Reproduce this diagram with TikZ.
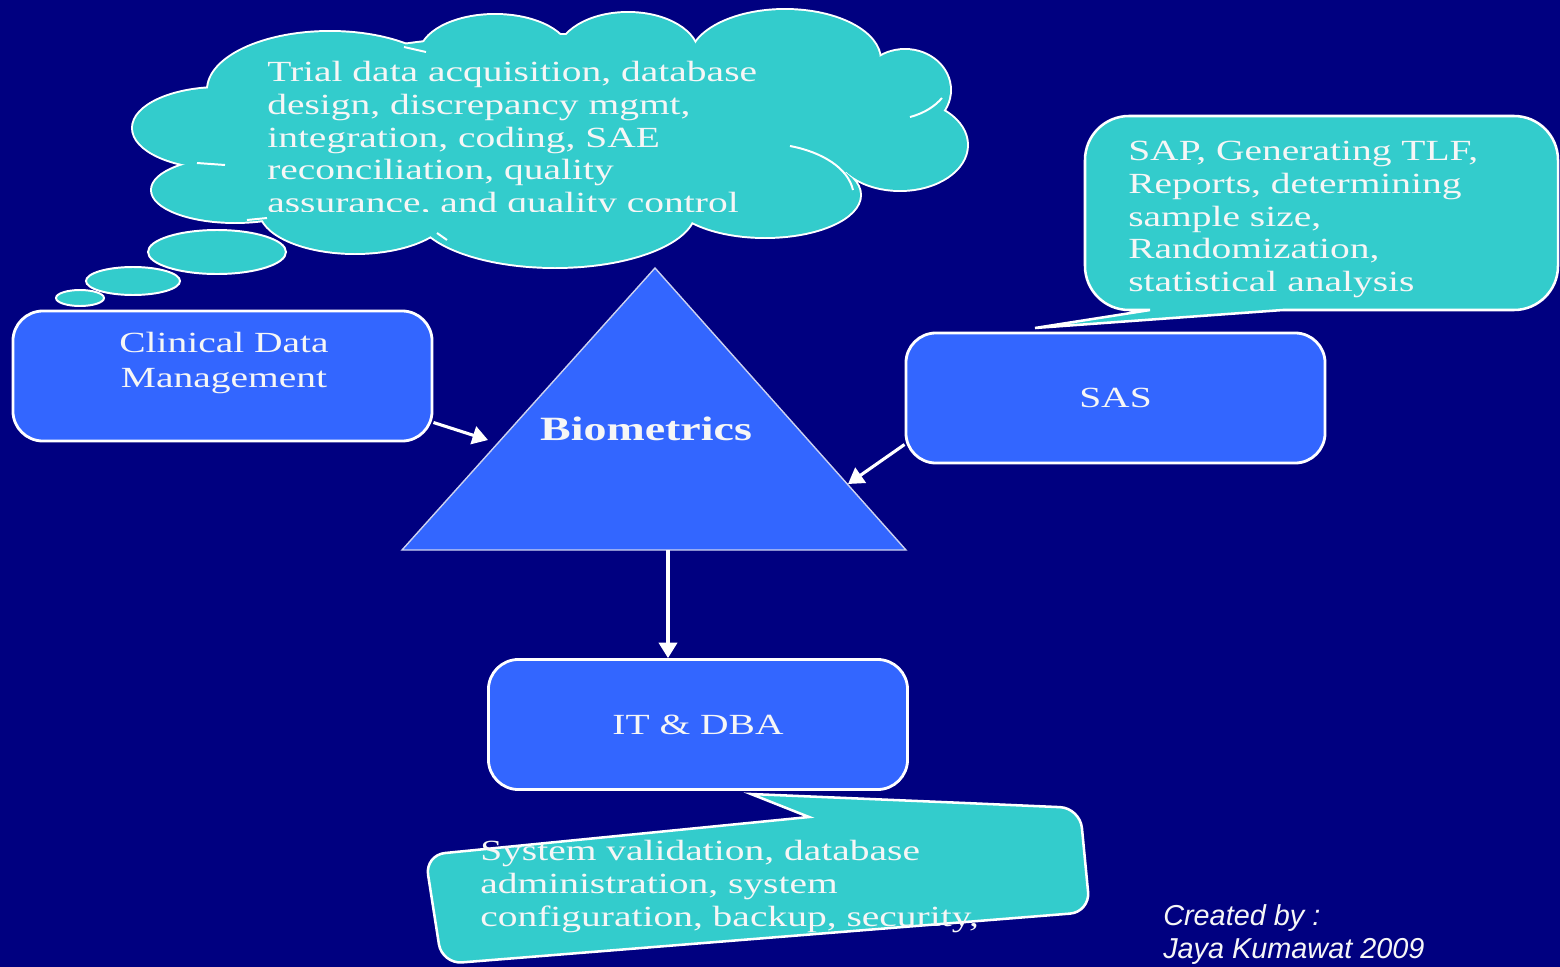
\documentclass[tikz,border=0pt]{standalone}
\usepackage{fontspec}
\newfontfamily\slidefont{Liberation Serif}[FakeStretch=1.35]
\newfontfamily\creditfont{Liberation Sans}
\usepackage{xcolor}
\definecolor{Slide-navy}{RGB}{0, 0, 128}
\definecolor{Slide-blue}{RGB}{51, 102, 255}
\definecolor{Slide-teal}{RGB}{51, 204, 204}
\definecolor{Slide-text}{RGB}{246, 246, 246}
\definecolor{Slide-edge}{RGB}{205, 210, 240}
\usetikzlibrary{arrows.meta,positioning,calc}
\def \cloudpuffs {330/90/122/58, 495/55/75/40, 628/55/70/42, 785/60/95/50, 905/90/45/40,
    900/145/67/45, 765/195/95/42, 555/210/140/57, 355/210/95/43, 235/190/83/32,
    220/128/87/40, 550/130/330/95, 860/110/55/45}

\begin{document}
\begin{tikzpicture} [
    x=0.025cm, y=-0.025cm, >={Triangle[length=11pt,width=13pt]},
    box/.style = {rectangle,rounded corners=0.75cm,draw=white,line width=2pt,fill=Slide-blue,
        minimum width=10.475cm,minimum height=3.25cm,text=Slide-text,
        font=\slidefont\fontsize{20.8}{24.8}\selectfont},
    plain/.style = {inner sep=0pt,text=Slide-text,align=left,
        font=\slidefont\fontsize{20.8}{23.3}\selectfont},
    callout/.style = {draw=white,line width=1.8pt,fill=Slide-teal},
    cloudline/.style = {white,line width=1.4pt},
    tri/.style = {draw=Slide-edge,line width=1pt,fill=Slide-blue},
    link/.style = {->,white,line width=2.2pt}
    ]

    \fill[Slide-navy] (0,0) rectangle (1560,967);
    \useasboundingbox (0,0) rectangle (1560,967);

    % thought cloud
    \foreach \cx/\cy/\rx/\ry in \cloudpuffs
        \draw[cloudline,line width=2.8pt] (\cx,\cy) ellipse [x radius=\rx*0.025cm, y radius=\ry*0.025cm];
    \foreach \cx/\cy/\rx/\ry in \cloudpuffs
        \fill[Slide-teal] (\cx,\cy) ellipse [x radius=\rx*0.025cm, y radius=\ry*0.025cm];
    \draw[cloudline] (790,146) .. controls (822,152) and (848,168) .. (853,190);
    \draw[cloudline] (910,117) .. controls (925,113) and (935,106) .. (942,98);
    \draw[cloudline] (197,163) -- (225,165);
    \draw[cloudline] (247,220) -- (267,218);
    \draw[cloudline] (437,233) -- (447,240);
    \draw[cloudline] (404,47) -- (426,52);
    \foreach \cx/\cy/\rx/\ry in {217/252/69/22, 133/281/47/14, 80/298/24/8}
        \draw[callout,line width=1.4pt] (\cx,\cy) ellipse [x radius=\rx*0.025cm, y radius=\ry*0.025cm];

    \begin{scope}
        \clip (250,40) rectangle (820,211);
        \node (cloudtext) [plain,anchor=north west] at (267,61)
            {Trial data acquisition, database\\design, discrepancy mgmt,\\integration, coding, SAE\\reconciliation, quality\\assurance, and quality control};
    \end{scope}

    % SAS callout
    \draw[callout] (1150,310) -- (1035,328) -- (1283,310) [rounded corners=1.1cm] -- (1558,310)
        -- (1558,116) -- (1085,116) -- (1085,310) [sharp corners] -- cycle;
    \node (sastext) [plain,anchor=north west] at (1128,141)
        {SAP, Generating TLF,\\Reports, determining\\sample size,\\Randomization,\\statistical analysis};

    % IT callout
    \draw[callout] (809,817) -- (751,794) -- (965,803) [rounded corners=0.5cm] -- (1080,808)
        -- (1090,912) -- (442,964) -- (425,855) [sharp corners] -- cycle;
    \node (ittext) [plain,anchor=north west] at (480,840)
        {System validation, database\\administration, system\\configuration, backup, security,};

    % triangle
    \coordinate (apex) at (655,268);
    \coordinate (bl) at (402,550);
    \coordinate (br) at (906,550);
    \draw[tri] (apex) -- (br) -- (bl) -- cycle;
    \node (bio) [plain,anchor=base,font=\slidefont\bfseries\fontsize{24.2}{28}\selectfont] at (646,440) {Biometrics};

    % boxes
    \node (cdm) [box] at (222.5,376) {};
    \node (cdmtext) [plain,align=center,anchor=north,font=\slidefont\fontsize{20.8}{24.8}\selectfont] at (224,332) {Clinical Data\\Management};
    \node (sas) [box] at (1115.5,398) {SAS};
    \node (itdba) [box] at (698,724.5) {IT \& DBA};

    \coordinate (cdmtip) at (488,440);
    \coordinate (sastip) at (848,484);
    \coordinate (base) at (668,550);

    \draw[link] ($(cdm.east)!0.7!(cdm.south east)$) -- (cdmtip);
    \draw[link] ($(sas.west)!0.7!(sas.south west)$) -- (sastip);
    \draw[link] (base) -- (base |- itdba.north);

    \node (credit) [plain,anchor=north west,font=\creditfont\itshape\fontsize{20.5}{23.4}\selectfont] at (1163,904)
        {Created by :\\Jaya Kumawat 2009};

\end{tikzpicture}
\end{document}
